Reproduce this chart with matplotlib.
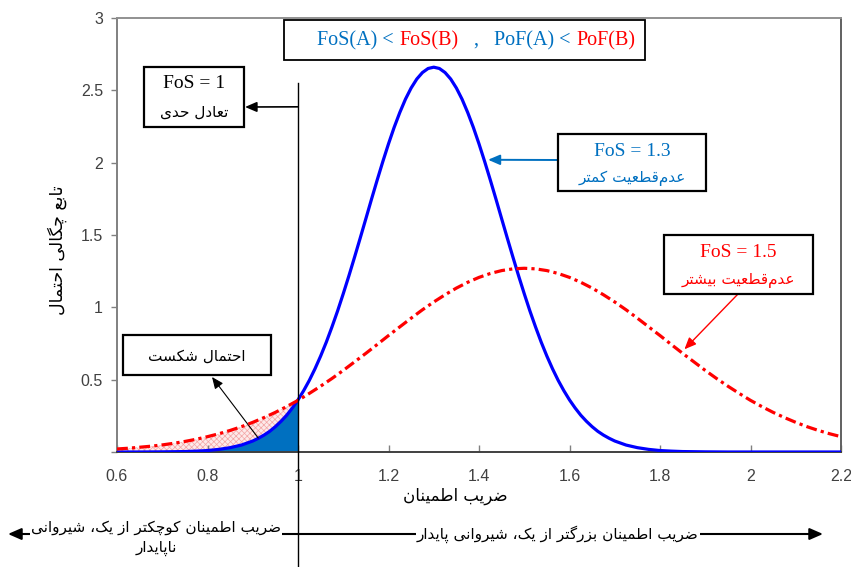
import numpy as np
import matplotlib
matplotlib.use("Agg")
import matplotlib.pyplot as plt
from matplotlib.patches import Rectangle
from matplotlib.offsetbox import TextArea, HPacker, AnnotationBbox

# FoS = 1.3, less uncertainty (blue) - denser samples where it bends
fos_a = [0.600, 0.650, 0.700, 0.750, 0.775, 0.800, 0.825, 0.850, 0.875,
         0.9000, 0.9125, 0.9250, 0.9375, 0.9500, 0.9625, 0.9750, 0.9875,
         1.0000, 1.0125, 1.0250, 1.0375, 1.0500, 1.0625, 1.0750, 1.0875,
         1.1000, 1.1125, 1.1250, 1.1375, 1.1500, 1.1625, 1.1750, 1.1875,
         1.2000, 1.2125, 1.2250, 1.2375, 1.2500, 1.2625, 1.2750, 1.2875,
         1.3000, 1.3125, 1.3250, 1.3375, 1.3500, 1.3625, 1.3750, 1.3875,
         1.4000, 1.4125, 1.4250, 1.4375, 1.4500, 1.4625, 1.4750, 1.4875,
         1.5000, 1.5125, 1.5250, 1.5375, 1.5500, 1.5625, 1.5750, 1.5875,
         1.6000, 1.6125, 1.6250, 1.6375, 1.6500, 1.6625, 1.6750, 1.6875,
         1.7000,
         1.725, 1.750, 1.775, 1.800, 1.825, 1.850, 1.900, 1.950, 2.000,
         2.050, 2.100, 2.150, 2.200]
pdf_a = [0.000, 0.000, 0.001, 0.003, 0.006, 0.010, 0.018, 0.030, 0.048,
         0.076, 0.095, 0.117, 0.143, 0.175, 0.212, 0.254, 0.304,
         0.360, 0.424, 0.495, 0.575, 0.663, 0.759, 0.864, 0.975,
         1.094, 1.218, 1.347, 1.479, 1.613, 1.748, 1.880, 2.008,
         2.130, 2.244, 2.347, 2.439, 2.516, 2.578, 2.623, 2.651,
         2.660, 2.651, 2.623, 2.578, 2.516, 2.439, 2.347, 2.244,
         2.130, 2.008, 1.880, 1.748, 1.613, 1.479, 1.347, 1.218,
         1.094, 0.975, 0.864, 0.759, 0.663, 0.575, 0.495, 0.424,
         0.360, 0.304, 0.254, 0.212, 0.175, 0.143, 0.117, 0.095,
         0.076,
         0.048, 0.030, 0.018, 0.010, 0.006, 0.003, 0.001, 0.000, 0.000,
         0.000, 0.000, 0.000, 0.000]

# FoS = 1.5, more uncertainty (red)
fos_b = [0.600, 0.625, 0.650, 0.675, 0.700, 0.725, 0.750, 0.775,
         0.800, 0.825, 0.850, 0.875, 0.900, 0.925, 0.950, 0.975,
         1.000, 1.025, 1.050, 1.075, 1.100, 1.125, 1.150, 1.175,
         1.200, 1.225, 1.250, 1.275, 1.300, 1.325, 1.350, 1.375,
         1.400, 1.425, 1.450, 1.475, 1.500, 1.525, 1.550, 1.575,
         1.600, 1.625, 1.650, 1.675, 1.700, 1.725, 1.750, 1.775,
         1.800, 1.825, 1.850, 1.875, 1.900, 1.925, 1.950, 1.975,
         2.000, 2.025, 2.050, 2.075, 2.100, 2.125, 2.150, 2.175,
         2.200]
pdf_b = [0.021, 0.026, 0.033, 0.040, 0.049, 0.060, 0.073, 0.088,
         0.106, 0.126, 0.149, 0.175, 0.205, 0.238, 0.274, 0.314,
         0.357, 0.405, 0.455, 0.508, 0.564, 0.623, 0.682, 0.743,
         0.805, 0.865, 0.925, 0.983, 1.037, 1.087, 1.133, 1.173,
         1.207, 1.234, 1.254, 1.266, 1.270, 1.266, 1.254, 1.234,
         1.207, 1.173, 1.133, 1.087, 1.037, 0.983, 0.925, 0.865,
         0.805, 0.743, 0.682, 0.623, 0.564, 0.508, 0.455, 0.405,
         0.357, 0.314, 0.274, 0.238, 0.205, 0.175, 0.149, 0.126,
         0.106]

xticks = [0.6, 0.8, 1, 1.2, 1.4, 1.6, 1.8, 2, 2.2]
xticklabels = ["0.6", "0.8", "1", "1.2", "1.4", "1.6", "1.8", "2", "2.2"]
yticks = [0, 0.5, 1, 1.5, 2, 2.5, 3]
yticklabels = ["", "0.5", "1", "1.5", "2", "2.5", "3"]

BLUE_TXT = "#0070C0"

# --- minimal persian shaping (matplotlib has no arabic text layout) ---
FORMS = {
    "ا": (0xFE8D, 0xFE8E), "آ": (0xFE81, 0xFE82),
    "د": (0xFEA9, 0xFEAA), "ذ": (0xFEAB, 0xFEAC),
    "ر": (0xFEAD, 0xFEAE), "ز": (0xFEAF, 0xFEB0),
    "ژ": (0xFB8A, 0xFB8B), "و": (0xFEED, 0xFEEE),
    "ب": (0xFE8F, 0xFE90, 0xFE91, 0xFE92), "پ": (0xFB56, 0xFB57, 0xFB58, 0xFB59),
    "ت": (0xFE95, 0xFE96, 0xFE97, 0xFE98), "ث": (0xFE99, 0xFE9A, 0xFE9B, 0xFE9C),
    "ج": (0xFE9D, 0xFE9E, 0xFE9F, 0xFEA0), "چ": (0xFB7A, 0xFB7B, 0xFB7C, 0xFB7D),
    "ح": (0xFEA1, 0xFEA2, 0xFEA3, 0xFEA4), "خ": (0xFEA5, 0xFEA6, 0xFEA7, 0xFEA8),
    "س": (0xFEB1, 0xFEB2, 0xFEB3, 0xFEB4), "ش": (0xFEB5, 0xFEB6, 0xFEB7, 0xFEB8),
    "ص": (0xFEB9, 0xFEBA, 0xFEBB, 0xFEBC), "ض": (0xFEBD, 0xFEBE, 0xFEBF, 0xFEC0),
    "ط": (0xFEC1, 0xFEC2, 0xFEC3, 0xFEC4), "ظ": (0xFEC5, 0xFEC6, 0xFEC7, 0xFEC8),
    "ع": (0xFEC9, 0xFECA, 0xFECB, 0xFECC), "غ": (0xFECD, 0xFECE, 0xFECF, 0xFED0),
    "ف": (0xFED1, 0xFED2, 0xFED3, 0xFED4), "ق": (0xFED5, 0xFED6, 0xFED7, 0xFED8),
    "ک": (0xFB8E, 0xFB8F, 0xFB90, 0xFB91), "گ": (0xFB92, 0xFB93, 0xFB94, 0xFB95),
    "ل": (0xFEDD, 0xFEDE, 0xFEDF, 0xFEE0), "م": (0xFEE1, 0xFEE2, 0xFEE3, 0xFEE4),
    "ن": (0xFEE5, 0xFEE6, 0xFEE7, 0xFEE8), "ه": (0xFEE9, 0xFEEA, 0xFEEB, 0xFEEC),
    "ی": (0xFBFC, 0xFBFD, 0xFBFE, 0xFBFF),
}


def fa(text):
    lines = []
    for line in text.split("\n"):
        out = []
        for i, c in enumerate(line):
            if c == "\u200c":
                continue
            if c not in FORMS:
                out.append(c)
                continue
            prev = line[i - 1] if i > 0 else None
            nxt = line[i + 1] if i + 1 < len(line) else None
            f = FORMS[c]
            jp = prev in FORMS and len(FORMS[prev]) == 4
            jn = len(f) == 4 and nxt in FORMS
            if jp and jn:
                g = f[3]
            elif jp:
                g = f[1]
            elif jn:
                g = f[2]
            else:
                g = f[0]
            out.append(chr(g))
        lines.append("".join(out)[::-1])
    return "\n".join(lines)


W, H = 851, 567


def px(x, y):
    # figure pixel (from top-left) -> figure fraction
    return (x / W, 1 - y / H)


def box(fig, x0, y0, x1, y1, lw=1.6):
    fig.patches.append(Rectangle(px(x0, y1), (x1 - x0) / W, (y1 - y0) / H,
                                 transform=fig.transFigure, fill=False,
                                 ec="black", lw=lw, zorder=5))


fig = plt.figure(figsize=(8.51, 5.67), dpi=100)
ax = fig.add_axes([117 / W, 1 - 452 / H, (841 - 117) / W, (452 - 18) / H])

xa, ya = np.array(fos_a), np.array(pdf_a)
xb, yb = np.array(fos_b), np.array(pdf_b)
ma, mb = xa <= 1.0, xb <= 1.0

# probability of failure: hatched band between the curves, solid under the blue one
plt.rcParams["hatch.linewidth"] = 0.5
ax.fill(np.concatenate([xb[mb], xa[ma][::-1]]), np.concatenate([yb[mb], ya[ma][::-1]]),
        facecolor="#fdeaea", edgecolor="#f3a5a5", hatch="xxxxxx", linewidth=0, zorder=1)
ax.fill_between(xa[ma], 0, ya[ma], color="#0070C0", linewidth=0, zorder=2)
ax.plot(xa, ya, color="#0000FF", lw=2.3, zorder=3, solid_joinstyle="round")
ax.plot(xb, yb, color="#FF0000", lw=2.3, zorder=4,
        linestyle=(0, (3.4, 1.3, 1.0, 1.3)))

ax.set_xlim(0.6, 2.2)
ax.set_ylim(0, 3)
ax.set_xticks(xticks)
ax.set_xticklabels(xticklabels)
ax.set_yticks(yticks)
ax.set_yticklabels(yticklabels)
for lab in ax.get_xticklabels() + ax.get_yticklabels():
    lab.set_fontfamily("Liberation Sans")
    lab.set_fontsize(11.5)
    lab.set_color("#404040")
ax.tick_params(axis="x", direction="in", length=5, width=1, color="#808080", pad=12)
ax.tick_params(axis="y", direction="out", length=4, width=1, color="#808080", pad=6)
ax.spines["left"].set_color("#808080")
ax.spines["top"].set_color("#909090")
ax.spines["right"].set_color("#606060")
ax.spines["bottom"].set_color("#404040")
for s in ax.spines.values():
    s.set_linewidth(1.4)

# FoS = 1 limit line
ax.plot([1, 1], [2.55, -0.8], color="black", lw=1, clip_on=False, zorder=6)
ax.annotate("", xy=px(245, 107), xycoords="figure fraction",
            xytext=(1, 2.386), textcoords="data", annotation_clip=False,
            arrowprops=dict(arrowstyle="-|>,head_length=0.7,head_width=0.3",
                            color="black", lw=1.2, shrinkA=0, shrinkB=0))

# boxes
box(fig, 144, 67, 244, 127)
fig.text(*px(194, 84), "FoS = 1", ha="center", va="center",
         family="Liberation Serif", fontsize=14)
fig.text(*px(194, 112), fa("تعادل حدی"), ha="center", va="center",
         family="DejaVu Sans", fontsize=11)

box(fig, 284, 20, 645, 60, lw=1.3)
parts = [("FoS(A) <", BLUE_TXT), ("FoS(B)", "#FF0000"),
         ("  ,   PoF(A) <", BLUE_TXT), ("PoF(B)", "#FF0000")]
areas = [TextArea(t, textprops=dict(color=c, family="Liberation Serif", fontsize=14.5))
         for t, c in parts]
ab = AnnotationBbox(HPacker(children=areas, align="baseline", pad=0, sep=4),
                    px(476, 41), xycoords="figure fraction", frameon=False,
                    box_alignment=(0.5, 0.5))
fig.add_artist(ab)

box(fig, 558, 134, 706, 191)
fig.text(*px(632, 151), "FoS = 1.3", ha="center", va="center", color=BLUE_TXT,
         family="Liberation Serif", fontsize=14)
fig.text(*px(632, 178), fa("عدم\u200cقطعیت کمتر"), ha="center", va="center",
         color=BLUE_TXT, family="DejaVu Sans", fontsize=11)
ax.annotate("", xy=(1.42, 2.02), xycoords="data",
            xytext=px(558, 160), textcoords="figure fraction",
            arrowprops=dict(arrowstyle="-|>,head_length=0.7,head_width=0.3",
                            color=BLUE_TXT, lw=1.4, shrinkA=0, shrinkB=0))

box(fig, 664, 235, 813, 294)
fig.text(*px(738, 253), "FoS = 1.5", ha="center", va="center", color="#FF0000",
         family="Liberation Serif", fontsize=14)
fig.text(*px(738, 280), fa("عدم\u200cقطعیت بیشتر"), ha="center", va="center",
         color="#FF0000", family="DejaVu Sans", fontsize=11)
ax.annotate("", xy=(1.854, 0.71), xycoords="data",
            xytext=px(738, 294), textcoords="figure fraction",
            arrowprops=dict(arrowstyle="-|>,head_length=0.7,head_width=0.3",
                            color="#FF0000", lw=1, shrinkA=0, shrinkB=0))

box(fig, 123, 335, 271, 375)
fig.text(*px(197, 356), fa("احتمال شکست"), ha="center", va="center",
         family="DejaVu Sans", fontsize=11)
ax.annotate("", xy=px(212, 377), xycoords="figure fraction",
            xytext=(0.912, 0.097), textcoords="data",
            arrowprops=dict(arrowstyle="-|>,head_length=0.7,head_width=0.3",
                            color="black", lw=0.8, shrinkA=0, shrinkB=0))

# axis titles
fig.text(*px(455, 496), fa("ضریب اطمینان"), ha="center", va="center",
         family="DejaVu Sans", fontsize=12)
fig.text(*px(57, 250), fa("تابع چگالی احتمال"), ha="center", va="center",
         rotation=90, family="DejaVu Sans", fontsize=12.5)

# stable / unstable arrows below the axis
ax.annotate("", xy=px(823, 534), xycoords="figure fraction",
            xytext=px(282, 534), textcoords="figure fraction", annotation_clip=False,
            arrowprops=dict(arrowstyle="-|>,head_length=0.8,head_width=0.35",
                            color="black", lw=1.5, shrinkA=0, shrinkB=0))
ax.annotate("", xy=px(8, 534), xycoords="figure fraction",
            xytext=px(282, 534), textcoords="figure fraction", annotation_clip=False,
            arrowprops=dict(arrowstyle="-|>,head_length=0.8,head_width=0.35",
                            color="black", lw=1.5, shrinkA=0, shrinkB=0))
fig.text(*px(558, 534), fa("ضریب اطمینان بزرگتر از یک، شیروانی پایدار"),
         ha="center", va="center", family="DejaVu Sans", fontsize=11,
         bbox=dict(facecolor="white", edgecolor="none", pad=1))
fig.text(*px(156, 538), fa("ضریب اطمینان کوچکتر از یک، شیروانی\nناپایدار"),
         ha="center", va="center", multialignment="center", linespacing=1.45,
         family="DejaVu Sans", fontsize=11,
         bbox=dict(facecolor="white", edgecolor="none", pad=1))

fig.savefig("out.png", dpi=100)
